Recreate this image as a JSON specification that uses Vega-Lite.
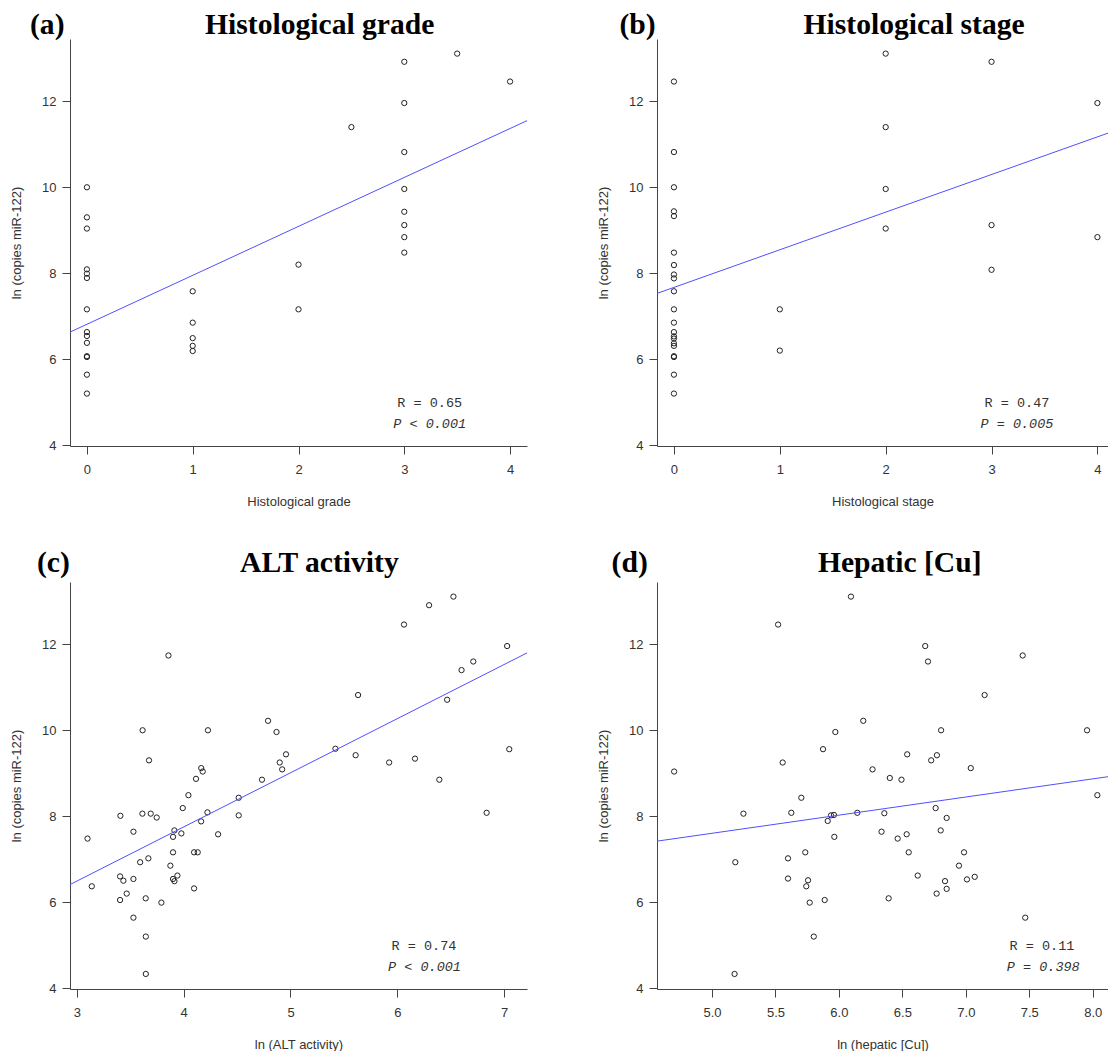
{
  "$schema": "https://vega.github.io/schema/vega-lite/v6.json",
  "background": "white",
  "padding": {"left": 10, "top": 10, "right": 0, "bottom": 0},
  "autosize": {"type": "pad"},
  "config": {
    "view": {"stroke": null},
    "font": "Liberation Sans",
    "axis": {"grid": false, "domainColor": "#444", "tickColor": "#444", "tickSize": 8, "labelFont": "Liberation Sans", "labelFontSize": 13, "labelColor": "#333", "titleFont": "Liberation Sans", "titleFontSize": 13, "titleFontWeight": "normal", "titleColor": "#333"},
    "axisX": {"labelPadding": 9, "titlePadding": 19},
    "axisY": {"labelPadding": 6, "titlePadding": 18, "labelAngle": 0},
    "title": {"font": "Liberation Serif", "fontSize": 29.6, "fontWeight": "bold", "color": "#000", "anchor": "start", "frame": "group", "baseline": "alphabetic"}
  },
  "datasets": {
    "points": [
      {"panel": "a", "x": 0, "y": 10.0}, {"panel": "a", "x": 0, "y": 9.30}, {"panel": "a", "x": 0, "y": 9.04}, {"panel": "a", "x": 0, "y": 8.09}, {"panel": "a", "x": 0, "y": 7.99}, {"panel": "a", "x": 0, "y": 7.89}, {"panel": "a", "x": 0, "y": 7.16}, {"panel": "a", "x": 0, "y": 6.63}, {"panel": "a", "x": 0, "y": 6.54}, {"panel": "a", "x": 0, "y": 6.38}, {"panel": "a", "x": 0, "y": 6.07}, {"panel": "a", "x": 0, "y": 6.05}, {"panel": "a", "x": 0, "y": 5.64}, {"panel": "a", "x": 0, "y": 5.20},
      {"panel": "a", "x": 1, "y": 7.58}, {"panel": "a", "x": 1, "y": 6.85}, {"panel": "a", "x": 1, "y": 6.49}, {"panel": "a", "x": 1, "y": 6.31}, {"panel": "a", "x": 1, "y": 6.19},
      {"panel": "a", "x": 2, "y": 8.20}, {"panel": "a", "x": 2, "y": 7.16},
      {"panel": "a", "x": 2.5, "y": 11.40},
      {"panel": "a", "x": 3, "y": 12.92}, {"panel": "a", "x": 3, "y": 11.96}, {"panel": "a", "x": 3, "y": 10.82}, {"panel": "a", "x": 3, "y": 9.96}, {"panel": "a", "x": 3, "y": 9.43}, {"panel": "a", "x": 3, "y": 9.12}, {"panel": "a", "x": 3, "y": 8.84}, {"panel": "a", "x": 3, "y": 8.48},
      {"panel": "a", "x": 3.5, "y": 13.11},
      {"panel": "a", "x": 4, "y": 12.46},
      {"panel": "b", "x": 0, "y": 12.46}, {"panel": "b", "x": 0, "y": 10.82}, {"panel": "b", "x": 0, "y": 10.0}, {"panel": "b", "x": 0, "y": 9.44}, {"panel": "b", "x": 0, "y": 9.33}, {"panel": "b", "x": 0, "y": 8.48}, {"panel": "b", "x": 0, "y": 8.19}, {"panel": "b", "x": 0, "y": 7.97}, {"panel": "b", "x": 0, "y": 7.88}, {"panel": "b", "x": 0, "y": 7.58}, {"panel": "b", "x": 0, "y": 7.16}, {"panel": "b", "x": 0, "y": 6.85}, {"panel": "b", "x": 0, "y": 6.63}, {"panel": "b", "x": 0, "y": 6.53}, {"panel": "b", "x": 0, "y": 6.48}, {"panel": "b", "x": 0, "y": 6.37}, {"panel": "b", "x": 0, "y": 6.31}, {"panel": "b", "x": 0, "y": 6.07}, {"panel": "b", "x": 0, "y": 6.05}, {"panel": "b", "x": 0, "y": 5.64}, {"panel": "b", "x": 0, "y": 5.20},
      {"panel": "b", "x": 1, "y": 7.16}, {"panel": "b", "x": 1, "y": 6.20},
      {"panel": "b", "x": 2, "y": 13.11}, {"panel": "b", "x": 2, "y": 11.40}, {"panel": "b", "x": 2, "y": 9.96}, {"panel": "b", "x": 2, "y": 9.04},
      {"panel": "b", "x": 3, "y": 12.92}, {"panel": "b", "x": 3, "y": 9.12}, {"panel": "b", "x": 3, "y": 8.08},
      {"panel": "b", "x": 4, "y": 11.96}, {"panel": "b", "x": 4, "y": 8.84},
      {"panel": "c", "x": 3.857, "y": 11.74}, {"panel": "c", "x": 3.615, "y": 10.0}, {"panel": "c", "x": 4.227, "y": 10.0}, {"panel": "c", "x": 3.675, "y": 9.30}, {"panel": "c", "x": 4.164, "y": 9.12}, {"panel": "c", "x": 4.178, "y": 9.04}, {"panel": "c", "x": 4.115, "y": 8.87}, {"panel": "c", "x": 4.044, "y": 8.49}, {"panel": "c", "x": 4.515, "y": 8.43}, {"panel": "c", "x": 4.733, "y": 8.85}, {"panel": "c", "x": 4.790, "y": 10.22}, {"panel": "c", "x": 4.869, "y": 9.96}, {"panel": "c", "x": 4.899, "y": 9.25}, {"panel": "c", "x": 4.922, "y": 9.09}, {"panel": "c", "x": 4.958, "y": 9.44}, {"panel": "c", "x": 5.421, "y": 9.57}, {"panel": "c", "x": 5.61, "y": 9.42}, {"panel": "c", "x": 5.633, "y": 10.82}, {"panel": "c", "x": 5.924, "y": 9.25}, {"panel": "c", "x": 6.063, "y": 12.46}, {"panel": "c", "x": 6.166, "y": 9.34}, {"panel": "c", "x": 6.298, "y": 12.91}, {"panel": "c", "x": 6.394, "y": 8.85}, {"panel": "c", "x": 6.467, "y": 10.71}, {"panel": "c", "x": 6.526, "y": 13.11}, {"panel": "c", "x": 6.602, "y": 11.40}, {"panel": "c", "x": 6.712, "y": 11.60}, {"panel": "c", "x": 7.029, "y": 11.96}, {"panel": "c", "x": 7.049, "y": 9.56},
      {"panel": "c", "x": 3.099, "y": 7.48}, {"panel": "c", "x": 3.139, "y": 6.37}, {"panel": "c", "x": 3.407, "y": 8.01}, {"panel": "c", "x": 3.404, "y": 6.60}, {"panel": "c", "x": 3.435, "y": 6.50}, {"panel": "c", "x": 3.404, "y": 6.05}, {"panel": "c", "x": 3.466, "y": 6.20}, {"panel": "c", "x": 3.529, "y": 7.64}, {"panel": "c", "x": 3.529, "y": 6.54}, {"panel": "c", "x": 3.529, "y": 5.64}, {"panel": "c", "x": 3.592, "y": 6.93}, {"panel": "c", "x": 3.613, "y": 8.06}, {"panel": "c", "x": 3.644, "y": 6.09}, {"panel": "c", "x": 3.645, "y": 5.20}, {"panel": "c", "x": 3.645, "y": 4.33}, {"panel": "c", "x": 3.669, "y": 7.02}, {"panel": "c", "x": 3.691, "y": 8.06}, {"panel": "c", "x": 3.747, "y": 7.97}, {"panel": "c", "x": 3.791, "y": 5.99}, {"panel": "c", "x": 3.875, "y": 6.85}, {"panel": "c", "x": 3.90, "y": 7.52}, {"panel": "c", "x": 3.90, "y": 7.16}, {"panel": "c", "x": 3.90, "y": 6.54}, {"panel": "c", "x": 3.913, "y": 7.67}, {"panel": "c", "x": 3.913, "y": 6.49}, {"panel": "c", "x": 3.941, "y": 6.62}, {"panel": "c", "x": 3.978, "y": 7.60}, {"panel": "c", "x": 3.991, "y": 8.19}, {"panel": "c", "x": 4.097, "y": 7.16}, {"panel": "c", "x": 4.131, "y": 7.16}, {"panel": "c", "x": 4.097, "y": 6.32}, {"panel": "c", "x": 4.163, "y": 7.88}, {"panel": "c", "x": 4.222, "y": 8.09}, {"panel": "c", "x": 4.322, "y": 7.58}, {"panel": "c", "x": 4.515, "y": 8.02}, {"panel": "c", "x": 6.837, "y": 8.08},
      {"panel": "d", "x": 4.702, "y": 9.04}, {"panel": "d", "x": 5.521, "y": 12.46}, {"panel": "d", "x": 5.557, "y": 9.25}, {"panel": "d", "x": 5.704, "y": 8.43}, {"panel": "d", "x": 5.875, "y": 9.56}, {"panel": "d", "x": 5.972, "y": 9.96}, {"panel": "d", "x": 6.095, "y": 13.11}, {"panel": "d", "x": 6.192, "y": 10.22}, {"panel": "d", "x": 6.265, "y": 9.09}, {"panel": "d", "x": 6.401, "y": 8.89}, {"panel": "d", "x": 6.493, "y": 8.85}, {"panel": "d", "x": 6.538, "y": 9.44}, {"panel": "d", "x": 6.680, "y": 11.96}, {"panel": "d", "x": 6.702, "y": 11.60}, {"panel": "d", "x": 6.727, "y": 9.30}, {"panel": "d", "x": 6.772, "y": 9.42}, {"panel": "d", "x": 6.805, "y": 10.0}, {"panel": "d", "x": 7.039, "y": 9.12}, {"panel": "d", "x": 7.148, "y": 10.82}, {"panel": "d", "x": 7.448, "y": 11.74}, {"panel": "d", "x": 7.955, "y": 10.0}, {"panel": "d", "x": 8.036, "y": 8.49},
      {"panel": "d", "x": 5.178, "y": 4.33}, {"panel": "d", "x": 5.184, "y": 6.93}, {"panel": "d", "x": 5.248, "y": 8.06}, {"panel": "d", "x": 5.599, "y": 7.02}, {"panel": "d", "x": 5.599, "y": 6.55}, {"panel": "d", "x": 5.625, "y": 8.08}, {"panel": "d", "x": 5.735, "y": 7.16}, {"panel": "d", "x": 5.757, "y": 6.51}, {"panel": "d", "x": 5.743, "y": 6.37}, {"panel": "d", "x": 5.77, "y": 5.99}, {"panel": "d", "x": 5.802, "y": 5.20}, {"panel": "d", "x": 5.888, "y": 6.05}, {"panel": "d", "x": 5.912, "y": 7.89}, {"panel": "d", "x": 5.938, "y": 8.02}, {"panel": "d", "x": 5.961, "y": 8.03}, {"panel": "d", "x": 5.964, "y": 7.52}, {"panel": "d", "x": 6.145, "y": 8.08}, {"panel": "d", "x": 6.336, "y": 7.64}, {"panel": "d", "x": 6.358, "y": 8.07}, {"panel": "d", "x": 6.392, "y": 6.09}, {"panel": "d", "x": 6.463, "y": 7.48}, {"panel": "d", "x": 6.534, "y": 7.58}, {"panel": "d", "x": 6.55, "y": 7.16}, {"panel": "d", "x": 6.621, "y": 6.62}, {"panel": "d", "x": 6.762, "y": 8.19}, {"panel": "d", "x": 6.77, "y": 6.20}, {"panel": "d", "x": 6.802, "y": 7.67}, {"panel": "d", "x": 6.836, "y": 6.49}, {"panel": "d", "x": 6.849, "y": 7.96}, {"panel": "d", "x": 6.849, "y": 6.31}, {"panel": "d", "x": 6.946, "y": 6.85}, {"panel": "d", "x": 6.986, "y": 7.16}, {"panel": "d", "x": 7.009, "y": 6.53}, {"panel": "d", "x": 7.07, "y": 6.59}, {"panel": "d", "x": 7.468, "y": 5.64}
    ],
    "fits": [
      {"panel": "a", "x": -0.16, "y": 6.63}, {"panel": "a", "x": 4.16, "y": 11.55},
      {"panel": "b", "x": -0.16, "y": 7.53}, {"panel": "b", "x": 4.10, "y": 11.26},
      {"panel": "c", "x": 2.935, "y": 6.41}, {"panel": "c", "x": 7.215, "y": 11.80},
      {"panel": "d", "x": 4.567, "y": 7.42}, {"panel": "d", "x": 8.12, "y": 8.92}
    ],
    "notes": [
      {"panel": "a", "kind": "R", "label": "R = 0.65", "x": 3.24, "y": 4.98}, {"panel": "a", "kind": "P", "label": "P < 0.001", "x": 3.24, "y": 4.49},
      {"panel": "b", "kind": "R", "label": "R = 0.47", "x": 3.24, "y": 4.98}, {"panel": "b", "kind": "P", "label": "P = 0.005", "x": 3.24, "y": 4.49},
      {"panel": "c", "kind": "R", "label": "R = 0.74", "x": 6.25, "y": 4.98}, {"panel": "c", "kind": "P", "label": "P < 0.001", "x": 6.255, "y": 4.50},
      {"panel": "d", "kind": "R", "label": "R = 0.11", "x": 7.60, "y": 4.98}, {"panel": "d", "kind": "P", "label": "P = 0.398", "x": 7.61, "y": 4.50}
    ]
  },
  "bounds": "flush",
  "columns": 2,
  "spacing": {"row": 136, "column": 130},
  "concat": [
    {
      "width": 457, "height": 407,
      "title": {"text": "(a)\u00a0\u00a0\u00a0\u00a0\u00a0\u00a0\u00a0\u00a0\u00a0\u00a0\u00a0\u00a0\u00a0\u00a0\u00a0\u00a0\u00a0\u00a0\u00a0Histological grade", "dx": -40, "offset": -1.7},
      "layer": [
        {"data": {"name": "points"}, "transform": [{"filter": "datum.panel === 'a'"}],
         "mark": {"type": "point", "shape": "circle", "filled": false, "size": 28, "stroke": "#222", "strokeWidth": 1, "opacity": 1},
         "encoding": {
           "x": {"field": "x", "type": "quantitative", "scale": {"domain": [-0.16, 4.16], "nice": false, "zero": false}, "axis": {"values": [0, 1, 2, 3, 4], "format": "d", "title": "Histological grade"}},
           "y": {"field": "y", "type": "quantitative", "scale": {"domain": [3.98, 13.45], "nice": false, "zero": false}, "axis": {"values": [4, 6, 8, 10, 12], "format": "d", "title": "ln (copies miR-122)"}}
         }},
        {"data": {"name": "fits"}, "transform": [{"filter": "datum.panel === 'a'"}],
         "mark": {"type": "line", "color": "#5050ff", "strokeWidth": 1, "clip": true},
         "encoding": {"x": {"field": "x", "type": "quantitative"}, "y": {"field": "y", "type": "quantitative"}}},
        {"data": {"name": "notes"}, "transform": [{"filter": "datum.panel === 'a' && datum.kind === 'R'"}],
         "mark": {"type": "text", "font": "Liberation Mono", "fontSize": 13.5, "color": "#333", "align": "center", "baseline": "middle"},
         "encoding": {"x": {"field": "x", "type": "quantitative"}, "y": {"field": "y", "type": "quantitative"}, "text": {"field": "label"}}},
        {"data": {"name": "notes"}, "transform": [{"filter": "datum.panel === 'a' && datum.kind === 'P'"}],
         "mark": {"type": "text", "font": "Liberation Mono", "fontSize": 13.5, "fontStyle": "italic", "color": "#333", "align": "center", "baseline": "middle"},
         "encoding": {"x": {"field": "x", "type": "quantitative"}, "y": {"field": "y", "type": "quantitative"}, "text": {"field": "label"}}}
      ]
    },
    {
      "width": 451, "height": 407,
      "title": {"text": "(b)\u00a0\u00a0\u00a0\u00a0\u00a0\u00a0\u00a0\u00a0\u00a0\u00a0\u00a0\u00a0\u00a0\u00a0\u00a0\u00a0\u00a0\u00a0\u00a0\u00a0Histological stage", "dx": -37.6, "offset": -1.7},
      "layer": [
        {"data": {"name": "points"}, "transform": [{"filter": "datum.panel === 'b'"}],
         "mark": {"type": "point", "shape": "circle", "filled": false, "size": 28, "stroke": "#222", "strokeWidth": 1, "opacity": 1},
         "encoding": {
           "x": {"field": "x", "type": "quantitative", "scale": {"domain": [-0.16, 4.10], "nice": false, "zero": false}, "axis": {"values": [0, 1, 2, 3, 4], "format": "d", "title": "Histological stage"}},
           "y": {"field": "y", "type": "quantitative", "scale": {"domain": [3.98, 13.45], "nice": false, "zero": false}, "axis": {"values": [4, 6, 8, 10, 12], "format": "d", "title": "ln (copies miR-122)"}}
         }},
        {"data": {"name": "fits"}, "transform": [{"filter": "datum.panel === 'b'"}],
         "mark": {"type": "line", "color": "#5050ff", "strokeWidth": 1, "clip": true},
         "encoding": {"x": {"field": "x", "type": "quantitative"}, "y": {"field": "y", "type": "quantitative"}}},
        {"data": {"name": "notes"}, "transform": [{"filter": "datum.panel === 'b' && datum.kind === 'R'"}],
         "mark": {"type": "text", "font": "Liberation Mono", "fontSize": 13.5, "color": "#333", "align": "center", "baseline": "middle"},
         "encoding": {"x": {"field": "x", "type": "quantitative"}, "y": {"field": "y", "type": "quantitative"}, "text": {"field": "label"}}},
        {"data": {"name": "notes"}, "transform": [{"filter": "datum.panel === 'b' && datum.kind === 'P'"}],
         "mark": {"type": "text", "font": "Liberation Mono", "fontSize": 13.5, "fontStyle": "italic", "color": "#333", "align": "center", "baseline": "middle"},
         "encoding": {"x": {"field": "x", "type": "quantitative"}, "y": {"field": "y", "type": "quantitative"}, "text": {"field": "label"}}}
      ]
    },
    {
      "width": 457, "height": 407,
      "title": {"text": "(c)\u00a0\u00a0\u00a0\u00a0\u00a0\u00a0\u00a0\u00a0\u00a0\u00a0\u00a0\u00a0\u00a0\u00a0\u00a0\u00a0\u00a0\u00a0\u00a0\u00a0\u00a0\u00a0\u00a0ALT activity", "dx": -33, "offset": 3.7},
      "layer": [
        {"data": {"name": "points"}, "transform": [{"filter": "datum.panel === 'c'"}],
         "mark": {"type": "point", "shape": "circle", "filled": false, "size": 28, "stroke": "#222", "strokeWidth": 1, "opacity": 1},
         "encoding": {
           "x": {"field": "x", "type": "quantitative", "scale": {"domain": [2.935, 7.215], "nice": false, "zero": false}, "axis": {"values": [3, 4, 5, 6, 7], "format": "d", "title": "ln (ALT activity)"}},
           "y": {"field": "y", "type": "quantitative", "scale": {"domain": [3.98, 13.45], "nice": false, "zero": false}, "axis": {"values": [4, 6, 8, 10, 12], "format": "d", "title": "ln (copies miR-122)"}}
         }},
        {"data": {"name": "fits"}, "transform": [{"filter": "datum.panel === 'c'"}],
         "mark": {"type": "line", "color": "#5050ff", "strokeWidth": 1, "clip": true},
         "encoding": {"x": {"field": "x", "type": "quantitative"}, "y": {"field": "y", "type": "quantitative"}}},
        {"data": {"name": "notes"}, "transform": [{"filter": "datum.panel === 'c' && datum.kind === 'R'"}],
         "mark": {"type": "text", "font": "Liberation Mono", "fontSize": 13.5, "color": "#333", "align": "center", "baseline": "middle"},
         "encoding": {"x": {"field": "x", "type": "quantitative"}, "y": {"field": "y", "type": "quantitative"}, "text": {"field": "label"}}},
        {"data": {"name": "notes"}, "transform": [{"filter": "datum.panel === 'c' && datum.kind === 'P'"}],
         "mark": {"type": "text", "font": "Liberation Mono", "fontSize": 13.5, "fontStyle": "italic", "color": "#333", "align": "center", "baseline": "middle"},
         "encoding": {"x": {"field": "x", "type": "quantitative"}, "y": {"field": "y", "type": "quantitative"}, "text": {"field": "label"}}}
      ]
    },
    {
      "width": 451, "height": 407,
      "title": {"text": "(d)\u00a0\u00a0\u00a0\u00a0\u00a0\u00a0\u00a0\u00a0\u00a0\u00a0\u00a0\u00a0\u00a0\u00a0\u00a0\u00a0\u00a0\u00a0\u00a0\u00a0\u00a0\u00a0\u00a0Hepatic [Cu]", "dx": -45.4, "offset": 3.7},
      "layer": [
        {"data": {"name": "points"}, "transform": [{"filter": "datum.panel === 'd'"}],
         "mark": {"type": "point", "shape": "circle", "filled": false, "size": 28, "stroke": "#222", "strokeWidth": 1, "opacity": 1},
         "encoding": {
           "x": {"field": "x", "type": "quantitative", "scale": {"domain": [4.567, 8.12], "nice": false, "zero": false}, "axis": {"values": [5, 5.5, 6, 6.5, 7, 7.5, 8], "format": ".1f", "title": "ln (hepatic [Cu])"}},
           "y": {"field": "y", "type": "quantitative", "scale": {"domain": [3.98, 13.45], "nice": false, "zero": false}, "axis": {"values": [4, 6, 8, 10, 12], "format": "d", "title": "ln (copies miR-122)"}}
         }},
        {"data": {"name": "fits"}, "transform": [{"filter": "datum.panel === 'd'"}],
         "mark": {"type": "line", "color": "#5050ff", "strokeWidth": 1, "clip": true},
         "encoding": {"x": {"field": "x", "type": "quantitative"}, "y": {"field": "y", "type": "quantitative"}}},
        {"data": {"name": "notes"}, "transform": [{"filter": "datum.panel === 'd' && datum.kind === 'R'"}],
         "mark": {"type": "text", "font": "Liberation Mono", "fontSize": 13.5, "color": "#333", "align": "center", "baseline": "middle"},
         "encoding": {"x": {"field": "x", "type": "quantitative"}, "y": {"field": "y", "type": "quantitative"}, "text": {"field": "label"}}},
        {"data": {"name": "notes"}, "transform": [{"filter": "datum.panel === 'd' && datum.kind === 'P'"}],
         "mark": {"type": "text", "font": "Liberation Mono", "fontSize": 13.5, "fontStyle": "italic", "color": "#333", "align": "center", "baseline": "middle"},
         "encoding": {"x": {"field": "x", "type": "quantitative"}, "y": {"field": "y", "type": "quantitative"}, "text": {"field": "label"}}}
      ]
    }
  ]
}
